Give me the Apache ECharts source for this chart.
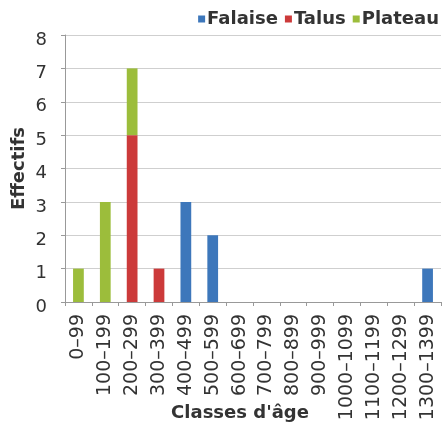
<!DOCTYPE html>
<html>
<head>
<meta charset="utf-8">
<script src="https://cdn.jsdelivr.net/npm/echarts@6/dist/echarts.min.js"></script>
<style>
  html, body { margin: 0; padding: 0; background: #fff; }
  #chart { width: 446px; height: 422px; }
</style>
</head>
<body>
<div id="chart"></div>
<script>
// classes d'âge (x)
var classes = ['0–99', '100–199', '200–299', '300–399', '400–499', '500–599', '600–699',
  '700–799', '800–899', '900–999', '1000–1099', '1100–1199', '1200–1299', '1300–1399'];
// effectifs par milieu (empilés)
var falaise = [0, 0, 0, 0, 3, 2, 0, 0, 0, 0, 0, 0, 0, 1];
var talus   = [0, 0, 5, 1, 0, 0, 0, 0, 0, 0, 0, 0, 0, 0];
var plateau = [1, 3, 2, 0, 0, 0, 0, 0, 0, 0, 0, 0, 0, 0];

var txt = '#333';
var font = 'DejaVu Sans';

var myChart = echarts.init(document.getElementById('chart'));
var option = {
  backgroundColor: '#fff',
  animation: false,
  color: ['#3d77bb', '#cc3a3a', '#9cbd3b'],
  textStyle: { fontFamily: font },
  legend: {
    right: 2,
    top: 5,
    itemWidth: 7,
    itemHeight: 7,
    itemGap: 7,
    icon: 'rect',
    textStyle: { fontSize: 18, fontWeight: 'bold', color: txt, padding: [0, 0, 0, -3] },
    data: ['Falaise', 'Talus', 'Plateau']
  },
  grid: { left: 65, right: 5, top: 35, bottom: 120, containLabel: false, outerBoundsMode: 'none' },
  xAxis: {
    type: 'category',
    data: classes,
    name: "Classes d'âge",
    nameLocation: 'middle',
    nameGap: 102,
    nameMoveOverlap: false,
    nameTextStyle: { fontSize: 18, fontWeight: 'bold', color: txt, padding: [0, 26, 0, 0] },
    axisLine: { lineStyle: { color: '#999' } },
    axisTick: { show: true, length: 4, lineStyle: { color: '#999' } },
    axisLabel: { interval: 0, rotate: 90, fontSize: 19, color: txt, margin: 12 }
  },
  yAxis: {
    type: 'value',
    min: 0,
    max: 8,
    interval: 1,
    name: 'Effectifs',
    nameLocation: 'middle',
    nameGap: 37,
    nameMoveOverlap: false,
    nameTextStyle: { fontSize: 18, fontWeight: 'bold', color: txt },
    axisLine: { show: true, lineStyle: { color: '#999' } },
    axisTick: { show: true, length: 4, lineStyle: { color: '#999' } },
    axisLabel: { fontSize: 18, color: txt, margin: 18, verticalAlign: 'top', lineHeight: 10 },
    splitLine: { lineStyle: { color: '#cfcfcf' } }
  },
  series: [
    { name: 'Falaise', type: 'bar', stack: 'total', barWidth: '40%', data: falaise },
    { name: 'Talus', type: 'bar', stack: 'total', barWidth: '40%', data: talus },
    { name: 'Plateau', type: 'bar', stack: 'total', barWidth: '40%', data: plateau }
  ]
};
myChart.setOption(option);
</script>
</body>
</html>
